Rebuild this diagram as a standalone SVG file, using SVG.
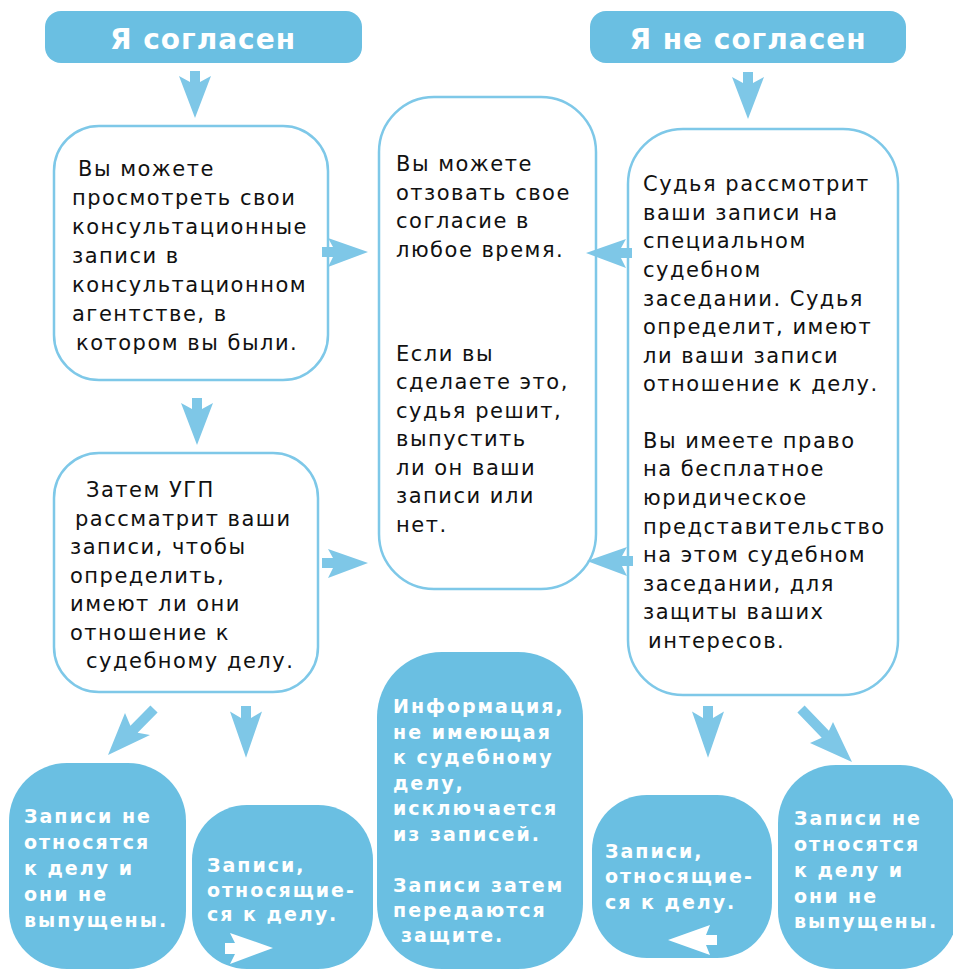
<svg xmlns="http://www.w3.org/2000/svg" xmlns:xlink="http://www.w3.org/1999/xlink" width="953" height="970" viewBox="0 0 953 970">
<defs>
<style>
.hdr{fill:#6ABFE2}
.box{fill:#fff;stroke:#7EC8E8;stroke-width:2.5}
.res{fill:#6ABFE2}
.arr{fill:#7EC7E7}
.warr{fill:#fff}
.ht{font-family:"DejaVu Sans",Verdana,sans-serif;font-weight:bold;font-size:28px;fill:#fff;letter-spacing:1px;text-anchor:middle}
.bt{font-family:"DejaVu Sans",Verdana,sans-serif;font-size:21px;fill:#111;letter-spacing:1.5px}
.wt{font-family:"DejaVu Sans",Verdana,sans-serif;font-weight:bold;font-size:19px;fill:#fff;letter-spacing:2px}
</style>
<path id="down" d="M-5,0 L5,0 L5,11 L16,5 L0,47 L-16,5 L-5,11 Z"/>
<path id="right" d="M0,-5 L11,-5 L6,-14 L46,0 L6,15 L11,5 L0,5 Z"/>
</defs>
<rect width="953" height="970" fill="#fff"/>

<g id="agree">
<rect class="hdr" x="45" y="11" width="317" height="52" rx="16"/>
<text class="ht" x="203" y="49">Я согласен</text>
</g>
<g id="disagree">
<rect class="hdr" x="590" y="11" width="316" height="52" rx="16"/>
<text class="ht" x="748" y="49">Я не согласен</text>
</g>

<g id="view">
<rect class="box" x="54" y="126" width="274" height="254" rx="45"/>
<text class="bt"><tspan x="78" y="176">Вы можете</tspan><tspan x="72" y="205">просмотреть свои</tspan><tspan x="72" y="234">консультационные</tspan><tspan x="72" y="263">записи в</tspan><tspan x="72" y="292">консультационном</tspan><tspan x="72" y="321">агентстве, в</tspan><tspan x="76" y="350">котором вы были.</tspan></text>
</g>

<g id="ugp">
<rect class="box" x="54" y="453" width="264" height="239" rx="45"/>
<text class="bt"><tspan x="86" y="497">Затем УГП</tspan><tspan x="75" y="526">рассматрит ваши</tspan><tspan x="70" y="554">записи, чтобы</tspan><tspan x="70" y="583">определить,</tspan><tspan x="70" y="611">имеют ли они</tspan><tspan x="70" y="640">отношение к</tspan><tspan x="86" y="668">судебному делу.</tspan></text>
</g>

<g id="withdraw">
<rect class="box" x="379" y="97" width="217" height="492" rx="55"/>
<text class="bt"><tspan x="396" y="171">Вы можете</tspan><tspan x="396" y="200">отзовать свое</tspan><tspan x="396" y="228">согласие в</tspan><tspan x="396" y="257">любое время.</tspan><tspan x="396" y="361">Если вы</tspan><tspan x="396" y="389">сделаете это,</tspan><tspan x="396" y="418">судья решит,</tspan><tspan x="396" y="446">выпустить</tspan><tspan x="396" y="475">ли он ваши</tspan><tspan x="396" y="503">записи или</tspan><tspan x="396" y="532">нет.</tspan></text>
</g>

<g id="judge">
<rect class="box" x="628" y="129" width="270" height="566" rx="55"/>
<text class="bt"><tspan x="643" y="191">Судья рассмотрит</tspan><tspan x="643" y="220">ваши записи на</tspan><tspan x="643" y="248">специальном</tspan><tspan x="643" y="277">судебном</tspan><tspan x="643" y="306">заседании. Судья</tspan><tspan x="643" y="334">определит, имеют</tspan><tspan x="643" y="363">ли ваши записи</tspan><tspan x="643" y="391">отношение к делу.</tspan><tspan x="643" y="448">Вы имеете право</tspan><tspan x="643" y="476">на бесплатное</tspan><tspan x="643" y="505">юридическое</tspan><tspan x="643" y="534">представительство</tspan><tspan x="643" y="562">на этом судебном</tspan><tspan x="643" y="591">заседании, для</tspan><tspan x="643" y="619">защиты ваших</tspan><tspan x="648" y="648">интересов.</tspan></text>
</g>

<g id="notrel-left">
<rect class="res" x="9" y="763" width="177" height="206" rx="58"/>
<text class="wt"><tspan x="24" y="823">Записи не</tspan><tspan x="24" y="849">относятся</tspan><tspan x="24" y="875">к делу и</tspan><tspan x="24" y="901">они не</tspan><tspan x="24" y="927">выпущены.</tspan></text>
</g>

<g id="rel-left">
<rect class="res" x="192" y="805" width="181" height="164" rx="55"/>
<text class="wt"><tspan x="207" y="872">Записи,</tspan><tspan x="207" y="897">относящие-</tspan><tspan x="207" y="921">ся к делу.</tspan></text>
<path class="warr" d="M225,943 L235,943 L230,933 L273,948 L230,964 L235,954 L225,954 Z"/>
</g>

<g id="info">
<rect class="res" x="377" y="652" width="206" height="317" rx="65"/>
<text class="wt"><tspan x="393" y="713">Информация,</tspan><tspan x="393" y="739">не имеющая</tspan><tspan x="393" y="764">к судебному</tspan><tspan x="393" y="790">делу,</tspan><tspan x="393" y="815">исключается</tspan><tspan x="393" y="841">из записей.</tspan><tspan x="393" y="892">Записи затем</tspan><tspan x="393" y="917">передаются</tspan><tspan x="401" y="942">защите.</tspan></text>
</g>

<g id="rel-right">
<rect class="res" x="592" y="795" width="180" height="163" rx="55"/>
<text class="wt"><tspan x="605" y="858">Записи,</tspan><tspan x="605" y="883">относящие-</tspan><tspan x="605" y="909">ся к делу.</tspan></text>
<path class="warr" d="M717,935 L706,935 L710,925 L668,940 L710,955 L706,945 L717,945 Z"/>
</g>

<g id="notrel-right">
<rect class="res" x="778" y="765" width="180" height="204" rx="58"/>
<text class="wt"><tspan x="794" y="825">Записи не</tspan><tspan x="794" y="851">относятся</tspan><tspan x="794" y="877">к делу и</tspan><tspan x="794" y="903">они не</tspan><tspan x="794" y="928">выпущены.</tspan></text>
</g>

<g id="connectors" class="arr">
<use xlink:href="#down" href="#down" transform="translate(195,71)"/>
<use xlink:href="#down" href="#down" transform="translate(748,72)"/>
<use xlink:href="#down" href="#down" transform="translate(197,398)"/>
<use xlink:href="#down" href="#down" transform="translate(246,706) scale(1,1.1)"/>
<use xlink:href="#down" href="#down" transform="translate(708,706) scale(1,1.1)"/>
<use xlink:href="#right" href="#right" transform="translate(322,252)"/>
<use xlink:href="#right" href="#right" transform="translate(322,563)"/>
<use xlink:href="#right" href="#right" transform="translate(632,253) scale(-1,1)"/>
<use xlink:href="#right" href="#right" transform="translate(633,561) scale(-1,1)"/>
<path d="M150.4,705.5 L157.6,712.5 L137.6,732.8 L150,735 L108,755 L125,713 L130.4,725.8 Z"/>
<path d="M797.4,712.5 L804.6,705.5 L828.9,730.7 L833,722 L852,762 L810,743 L821.7,737.7 Z"/>
</g>
</svg>
